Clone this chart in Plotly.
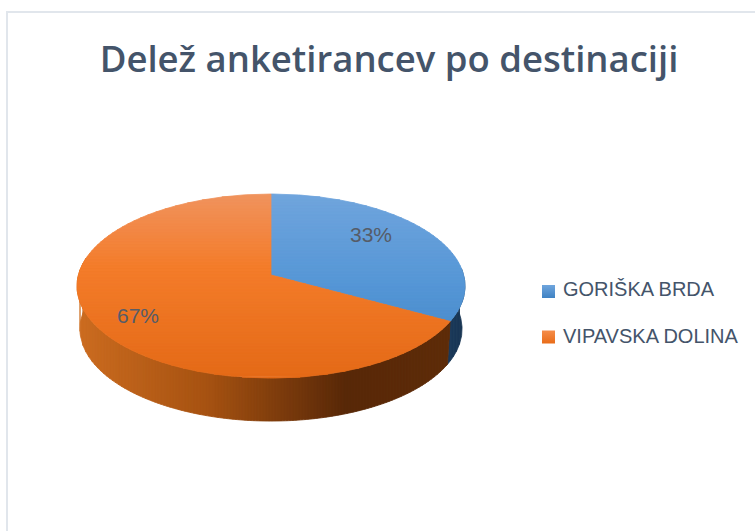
import math
import plotly.graph_objects as go

# --- data ---
categories = ["GORIŠKA BRDA", "VIPAVSKA DOLINA"]
shares = [33, 67]
share_labels = ["33%", "67%"]
title_text = "Delež anketirancev po destinaciji"

# --- colours / styling ---
TEXT = "#44546a"
LABEL = "#565c68"
FRAME = "#e1e6ec"
top_stops = [
    [(0.0, "#70a5dd"), (0.5, "#5596d6"), (1.0, "#3f82c3")],
    [(0.0, "#f0935e"), (0.4, "#f47c2a"), (1.0, "#e46a17")],
]
side_stops = [
    [(0.0, "#1c3b5c"), (1.0, "#183552")],
    [(0.0, "#cc6c20"), (0.35, "#a65211"), (0.72, "#582808"), (1.0, "#5e2c09")],
]
swatch_colors = [("#6fa5dd", "#3f82c3"), ("#f58d4a", "#e96c18")]

# --- geometry of the tilted disc, in picture pixels ---
CX, CY = 271, 275
A, B, K = 192.6, 90.7, 0.12
DEPTH, SHRINK = 43, 0.985


def rim(deg, bottom=False):
    t = math.radians(deg)
    x, y = math.sin(t), math.cos(t)
    w = 1 + K * y
    px, py = A * x / w, -B * y / w
    if bottom:
        return CX + px * SHRINK, CY + py + DEPTH
    return CX + px, CY + py


def clip(poly, axis, value, keep_less):
    out = []
    for i in range(len(poly)):
        p, q = poly[i], poly[(i + 1) % len(poly)]
        pin = (p[axis] <= value) == keep_less or p[axis] == value
        qin = (q[axis] <= value) == keep_less or q[axis] == value
        if pin:
            out.append(p)
        if pin != qin and q[axis] != p[axis]:
            r = (value - p[axis]) / (q[axis] - p[axis])
            out.append((p[0] + r * (q[0] - p[0]), p[1] + r * (q[1] - p[1])))
    return out


def mix(stops, f):
    f = min(max(f, 0), 1)
    for (f0, c0), (f1, c1) in zip(stops, stops[1:]):
        if f <= f1:
            r = (f - f0) / (f1 - f0)
            a = [int(c0[i:i + 2], 16) for i in (1, 3, 5)]
            b = [int(c1[i:i + 2], 16) for i in (1, 3, 5)]
            return "rgb(%d,%d,%d)" % tuple(round(u + r * (v - u)) for u, v in zip(a, b))
    return stops[-1][1]


def add_bands(fig, poly, axis, lo, hi, stops, step=3):
    v = lo
    while v < hi:
        band = clip(clip(poly, axis, v, False), axis, v + step, True)
        if len(band) > 2:
            col = mix(stops, (v + step / 2 - lo) / (hi - lo))
            fig.add_trace(go.Scatter(
                x=[p[0] for p in band] + [band[0][0]],
                y=[p[1] for p in band] + [band[0][1]],
                mode="lines", fill="toself", fillcolor=col,
                line=dict(color=col, width=0.8),
                hoverinfo="skip", showlegend=False))
        v += step


fig = go.Figure()

# slice boundaries from the values, clockwise from 12 o'clock
split = 360 * shares[0] / sum(shares)
spans = [(0, split), (split, 360)]
side_spans = [(86, split), (split, 281)]

# side wall first
for i, (a0, a1) in enumerate(side_spans):
    n = 80
    angs = [a0 + (a1 - a0) * j / n for j in range(n + 1)]
    poly = [rim(a) for a in angs] + [rim(a, True) for a in reversed(angs)]
    lo = min(p[0] for p in poly)
    hi = max(p[0] for p in poly)
    add_bands(fig, poly, 0, lo, hi, side_stops[i])

# top face
Y_TOP, Y_BOT = rim(0)[1], rim(180)[1]
for i, (a0, a1) in enumerate(spans):
    n = 180
    poly = [(CX, CY)] + [rim(a0 + (a1 - a0) * j / n) for j in range(n + 1)]
    add_bands(fig, poly, 1, Y_TOP, Y_BOT, top_stops[i])

# legend swatches
sw_y = [291.5, 337]
fig.add_trace(go.Scatter(
    x=[548.5, 548.5], y=sw_y, mode="markers", hoverinfo="skip", showlegend=False,
    marker=dict(symbol="square", size=13,
                color=[c[0] for c in swatch_colors],
                gradient=dict(type="vertical", color=[c[1] for c in swatch_colors]),
                line=dict(width=0))))

# legend labels and percentages
fig.add_trace(go.Scatter(
    x=[563, 563], y=[291, 338], text=categories, mode="text",
    textposition="middle right", hoverinfo="skip", showlegend=False,
    textfont=dict(family="Liberation Sans", size=20, color=TEXT)))
fig.add_trace(go.Scatter(
    x=[371, 138], y=[237, 318], text=share_labels, mode="text",
    textposition="middle center", hoverinfo="skip", showlegend=False,
    textfont=dict(family="Liberation Sans", size=21, color=LABEL)))

fig.update_layout(
    width=755, height=531, autosize=False,
    margin=dict(l=0, r=0, t=0, b=0),
    paper_bgcolor="white", plot_bgcolor="white",
    xaxis=dict(range=[0, 755], visible=False, fixedrange=True),
    yaxis=dict(range=[531, 0], visible=False, fixedrange=True),
    title=dict(text=title_text, x=389 / 755, xanchor="center",
               y=1 - 59 / 531, yanchor="middle",
               font=dict(family="Open Sans", size=36.5, color=TEXT, weight=600)),
    shapes=[dict(type="rect", xref="x", yref="y", x0=7, y0=12, x1=775, y1=560,
                 line=dict(color=FRAME, width=2), fillcolor="rgba(0,0,0,0)", layer="below")],
)

fig.write_html("out.html", config=dict(displayModeBar=False),
               post_script="document.body.style.margin='0';document.documentElement.style.overflow='hidden';")
